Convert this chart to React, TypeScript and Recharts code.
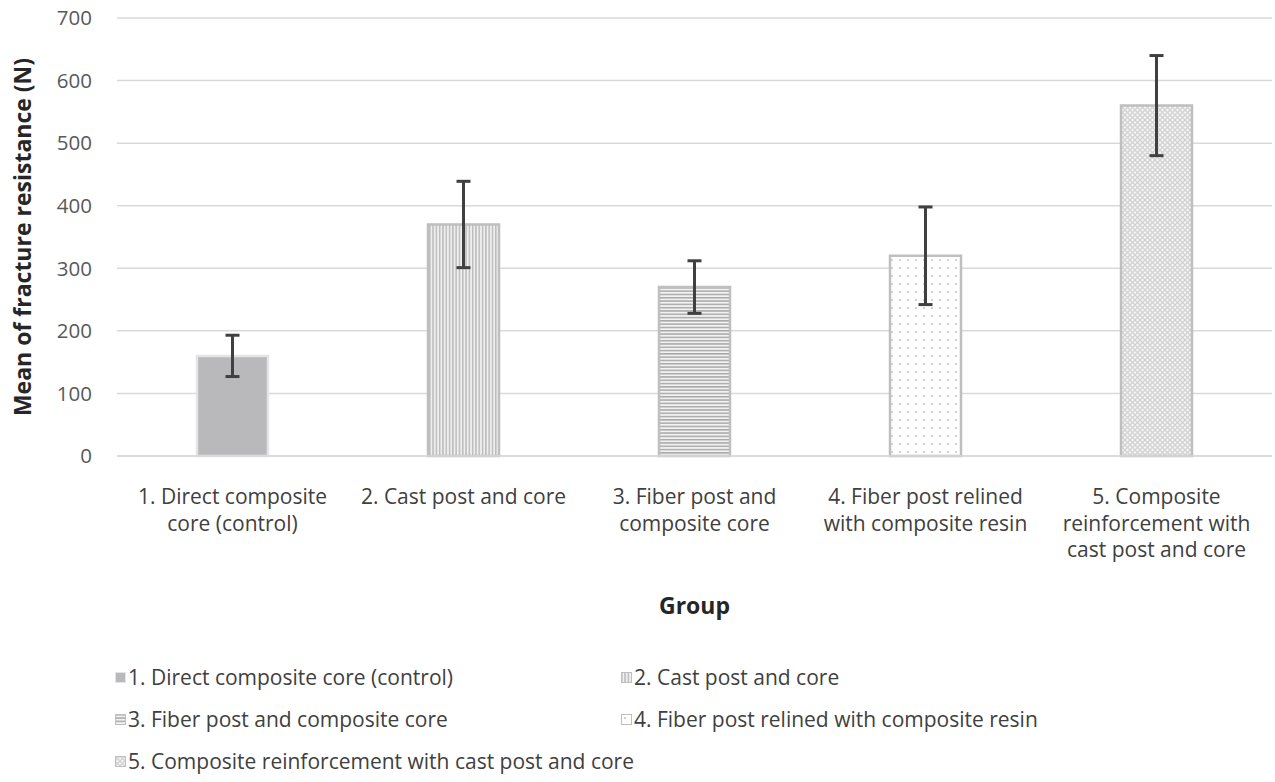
import React from 'react';
import { BarChart, Bar, XAxis, YAxis, CartesianGrid, ErrorBar, Cell } from 'recharts';

const categories = [
  '1. Direct composite\ncore (control)',
  '2. Cast post and core',
  '3. Fiber post and\ncomposite core',
  '4. Fiber post relined\nwith composite resin',
  '5. Composite\nreinforcement with\ncast post and core',
];
const legendLabels = [
  '1. Direct composite core (control)',
  '2. Cast post and core',
  '3. Fiber post and composite core',
  '4. Fiber post relined with composite resin',
  '5. Composite reinforcement with cast post and core',
];
const means = [160, 370, 270, 320, 560];
const errors = [33, 69, 42, 78, 80];
const yTicks = [0, 100, 200, 300, 400, 500, 600, 700];

const patternIds = ['pat1', 'pat2', 'pat3', 'pat4', 'pat5'];
const barStrokes = ['#e4e4e4', '#bfbfbf', '#bfbfbf', '#bfbfbf', '#bfbfbf'];

const data = categories.map((c, i) => ({ name: c, value: means[i], err: errors[i] }));

const FONT = '"Open Sans", sans-serif';

const Patterns = () => (
  <svg width={0} height={0} style={{ position: 'absolute' }}>
    <defs>
      <pattern id="pat1" patternUnits="userSpaceOnUse" width={4} height={4}>
        <rect width={4} height={4} fill="#b9b9bc" />
      </pattern>
      <pattern id="pat2" patternUnits="userSpaceOnUse" width={3.3} height={10}>
        <rect width={3.3} height={10} fill="#efefef" />
        <rect x={0} width={1.5} height={10} fill="#bcbcbc" />
      </pattern>
      <pattern id="pat3" patternUnits="userSpaceOnUse" width={10} height={3.3}>
        <rect width={10} height={3.3} fill="#f2f2f2" />
        <rect y={0} width={10} height={1.5} fill="#a9a9a9" />
      </pattern>
      <pattern id="pat4" patternUnits="userSpaceOnUse" width={8} height={8}>
        <rect width={8} height={8} fill="#ffffff" />
        <circle cx={4} cy={4} r={1} fill="#c4c4c4" />
      </pattern>
      <pattern id="pat5" patternUnits="userSpaceOnUse" width={5} height={5}>
        <rect width={5} height={5} fill="#f6f6f6" />
        <path d="M0,0 L5,5 M5,0 L0,5" stroke="#d2d2d2" strokeWidth={1.3} />
      </pattern>
    </defs>
  </svg>
);

const CategoryTick = (props: any) => {
  const { x, y, payload } = props;
  const lines = String(payload.value).split('\n');
  return (
    <g>
      {lines.map((l, i) => (
        <text
          key={i}
          x={x}
          y={y + 46}
          dy={i * 26.5}
          textAnchor="middle"
          fontFamily={FONT}
          fontSize={21}
          fill="#404040"
        >
          {l}
        </text>
      ))}
    </g>
  );
};

export default function App() {
  return (
    <div style={{ position: 'absolute', left: 0, top: 0, width: 1275, height: 782, background: '#fff', fontFamily: FONT }}>
      <Patterns />
      <BarChart
        width={1275}
        height={640}
        data={data}
        margin={{ top: 18, right: 3, left: 0, bottom: 0 }}
      >
        <CartesianGrid vertical={false} stroke="#d9d9d9" strokeWidth={1.5} />
        <XAxis
          dataKey="name"
          height={184}
          axisLine={{ stroke: '#d9d9d9', strokeWidth: 1.5 }}
          tickLine={false}
          tickSize={0}
          interval={0}
          tick={<CategoryTick />}
          label={{
            content: (p: any) => {
              const vb = p.viewBox;
              return (
                <text
                  x={vb.x + vb.width / 2}
                  y={vb.y + 158}
                  textAnchor="middle"
                  fontFamily={FONT}
                  fontSize={23}
                  fontWeight="bold"
                  fill="#262626"
                >
                  Group
                </text>
              );
            },
          }}
        />
        <YAxis
          width={117}
          domain={[0, 700]}
          ticks={yTicks}
          axisLine={false}
          tickLine={false}
          tickSize={0}
          tickMargin={25}
          tick={{ fontFamily: FONT, fontSize: 20.5, fill: '#595959' }}
          label={{
            content: (p: any) => {
              const vb = p.viewBox;
              const cx = 22;
              const cy = vb.y + vb.height / 2;
              return (
                <text
                  x={cx}
                  y={cy}
                  transform={`rotate(-90, ${cx}, ${cy})`}
                  textAnchor="middle"
                  dominantBaseline="central"
                  fontFamily={FONT}
                  fontSize={23}
                  fontWeight="bold"
                  fill="#262626"
                >
                  Mean of fracture resistance (N)
                </text>
              );
            },
          }}
        />
        <Bar dataKey="value" barSize={71} isAnimationActive={false}>
          {data.map((_, i) => (
            <Cell key={i} fill={`url(#${patternIds[i]})`} stroke={barStrokes[i]} strokeWidth={2.5} />
          ))}
          <ErrorBar dataKey="err" width={7} stroke="#404040" strokeWidth={3} isAnimationActive={false} />
        </Bar>
      </BarChart>
      <div
        style={{
          position: 'absolute',
          left: 115,
          top: 656,
          width: 1150,
          display: 'grid',
          gridTemplateColumns: '506px 540px',
          rowGap: 0,
        }}
      >
        {legendLabels.map((l, i) => (
          <div key={i} style={{ display: 'flex', alignItems: 'center', height: 42, fontSize: 21, color: '#404040', whiteSpace: 'nowrap' }}>
            <svg width={11} height={11} style={{ marginRight: 2, flex: 'none' }}>
              <rect x={0.5} y={0.5} width={10} height={10} fill={`url(#${patternIds[i]})`} stroke={barStrokes[i]} strokeWidth={1} />
            </svg>
            <span>{l}</span>
          </div>
        ))}
      </div>
    </div>
  );
}
